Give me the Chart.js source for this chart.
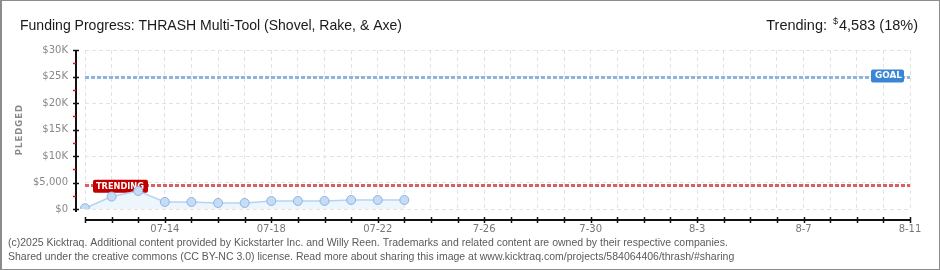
<!DOCTYPE html>
<html lang="en">
<head>
<meta charset="UTF-8">
<title>Funding Progress: THRASH Multi-Tool</title>
<script src="https://cdn.jsdelivr.net/npm/chart.js"></script>
<style>
    html, body { margin: 0; padding: 0; background: #fff; }
    .frame { position: relative; width: 940px; height: 270px; overflow: hidden; }
    .frame canvas { position: absolute; left: 0; top: 0; }
    .border {
        position: absolute; left: 0; top: 0; right: 0; bottom: 0;
        border: 1px solid #8c8c8c; border-left-width: 2px;
        pointer-events: none;
    }
</style>
</head>
<body>
<div class="frame">
    <canvas id="fundingChart" width="940" height="270"></canvas>
    <div class="border"></div>
</div>
<script>
// data
const days = ['07-11', '07-12', '07-13', '07-14', '07-15', '07-16', '07-17', '07-18',
              '07-19', '07-20', '07-21', '07-22', '07-23', '07-24', '07-25', '07-26',
              '07-27', '07-28', '07-29', '07-30', '07-31', '08-01', '08-02', '08-03',
              '08-04', '08-05', '08-06', '08-07', '08-08', '08-09', '08-10', '08-11'];
const pledged = [150, 2350, 3400, 1330, 1330, 1140, 1140, 1520, 1520, 1520, 1700, 1700, 1700];
const tickLabels = ['07-14', '07-18', '07-22', '7-26', '7-30', '8-3', '8-7', '8-11'];
const yTickLabels = ['$0', '$5,000', '$10K', '$15K', '$20K', '$25K', '$30K'];
const goal = 25000;
const trending = 4583;

function roundBox(ctx, x, y, w, h, r) {
    ctx.beginPath();
    ctx.moveTo(x + r, y);
    ctx.arcTo(x + w, y, x + w, y + h, r);
    ctx.arcTo(x + w, y + h, x, y + h, r);
    ctx.arcTo(x, y + h, x, y, r);
    ctx.arcTo(x, y, x + w, y, r);
    ctx.closePath();
    ctx.fill();
}

const overlay = {
    id: 'overlay',
    beforeDatasetsDraw(chart) {
        const { ctx, chartArea: a, scales: { y } } = chart;
        ctx.save();
        // goal + trending lines
        [[goal, '#8fb3df'], [trending, '#dd6060']].forEach(([v, c]) => {
            const py = Math.round(y.getPixelForValue(v)) + 0.5;
            ctx.strokeStyle = c;
            ctx.lineWidth = 3;
            ctx.setLineDash([4, 2]);
            ctx.beginPath();
            ctx.moveTo(a.left, py);
            ctx.lineTo(a.right, py);
            ctx.stroke();
        });
        ctx.setLineDash([]);

        // labels
        ctx.font = 'bold 9px "DejaVu Sans", sans-serif';
        ctx.textBaseline = 'middle';
        let ty = y.getPixelForValue(trending);
        ctx.fillStyle = '#c00000';
        roundBox(ctx, a.left + 8, ty - 5, 55, 13, 2);
        ctx.fillStyle = '#fff';
        ctx.fillText('TRENDING', a.left + 11, ty + 1.5, 48);

        let gy = y.getPixelForValue(goal);
        ctx.fillStyle = '#3a86d6';
        roundBox(ctx, a.right - 39, gy - 7, 33, 13, 2);
        ctx.fillStyle = '#fff';
        ctx.fillText('GOAL', a.right - 35, gy - 0.5, 27);
        ctx.restore();
    },
    afterDraw(chart) {
        const { ctx, chartArea: a, scales: { x, y } } = chart;
        ctx.save();
        // x axis
        const ax = a.bottom + 11;
        ctx.strokeStyle = '#111';
        ctx.lineWidth = 2;
        ctx.beginPath();
        ctx.moveTo(a.left, ax);
        ctx.lineTo(a.right + 1, ax);
        ctx.stroke();
        ctx.lineWidth = 1.5;
        days.forEach((d, i) => {
            const px = Math.round(x.getPixelForValue(i)) + 0.5;
            ctx.beginPath();
            ctx.moveTo(px, ax - 3);
            ctx.lineTo(px, ax + 3);
            ctx.stroke();
        });
        // y axis
        const ay = a.left - 9;
        ctx.lineWidth = 2;
        ctx.beginPath();
        ctx.moveTo(ay, a.top);
        ctx.lineTo(ay, a.bottom + 3);
        ctx.stroke();
        for (let v = 0; v <= 30000; v += 2500) {
            const py = Math.round(y.getPixelForValue(v)) + 0.5;
            const major = v % 5000 === 0;
            ctx.strokeStyle = major ? '#111' : '#e01010';
            ctx.lineWidth = 1.5;
            ctx.beginPath();
            ctx.moveTo(ay - 3, py);
            ctx.lineTo(major ? ay + 3 : ay, py);
            ctx.stroke();
        }
        // axis title
        ctx.translate(20, (a.top + a.bottom) / 2);
        ctx.rotate(-Math.PI / 2);
        ctx.font = 'bold 8.5px "DejaVu Sans", sans-serif';
        ctx.letterSpacing = '1px';
        ctx.fillStyle = '#8a8a8a';
        ctx.textAlign = 'center';
        ctx.textBaseline = 'middle';
        ctx.fillText('PLEDGED', 0, 0);
        ctx.restore();

        // headings and footer
        ctx.save();
        ctx.fillStyle = '#1a1a1a';
        ctx.font = '14.5px "Liberation Sans Narrow", "Liberation Sans", sans-serif';
        ctx.textBaseline = 'alphabetic';
        ctx.fillText('Funding Progress: THRASH Multi-Tool (Shovel, Rake, & Axe)', 20, 29.5, 382);
        const rest = '4,583 (18%)';
        const right = 918;
        const wRest = ctx.measureText(rest).width;
        ctx.fillText(rest, right - wRest, 29.5);
        ctx.font = '9px "Liberation Sans Narrow", "Liberation Sans", sans-serif';
        const wDol = ctx.measureText('$').width;
        ctx.fillText('$', right - wRest - wDol - 1, 24);
        ctx.font = '14.5px "Liberation Sans Narrow", "Liberation Sans", sans-serif';
        const lead = 'Trending:';
        const wLead = ctx.measureText(lead).width;
        ctx.fillText(lead, right - wRest - wDol - 7 - wLead, 29.5);

        ctx.fillStyle = '#5a5a5a';
        ctx.font = '10.5px "Liberation Sans Narrow", "Liberation Sans", sans-serif';
        ctx.fillText('(c)2025 Kicktraq. Additional content provided by Kickstarter Inc. and Willy Reen. Trademarks and related content are owned by their respective companies.', 8, 246, 720);
        ctx.fillText('Shared under the creative commons (CC BY-NC 3.0) license. Read more about sharing this image at www.kicktraq.com/projects/584064406/thrash/#sharing', 8, 260, 729);
        ctx.restore();
    }
};

const ctx = document.getElementById('fundingChart').getContext('2d');
new Chart(ctx, {
    type: 'line',
    data: {
        labels: days,
        datasets: [{
            label: 'Pledged',
            data: pledged,
            borderColor: '#b7d3f1',
            borderWidth: 1.5,
            backgroundColor: '#edf5fd',
            fill: 'origin',
            tension: 0,
            pointRadius: 4.5,
            pointBackgroundColor: '#c4dcf7',
            pointBorderColor: '#93b4da',
            pointBorderWidth: 1
        }]
    },
    options: {
        responsive: false,
        animation: false,
        layout: { padding: { top: 50, right: 30, left: 0, bottom: 0 } },
        plugins: {
            legend: { display: false },
            tooltip: { enabled: false }
        },
        scales: {
            x: {
                offset: false,
                afterFit: s => { s.height = 61; },
                grid: { color: '#e3e3e3', drawTicks: false },
                border: { display: false, dash: [4, 3] },
                ticks: {
                    autoSkip: false,
                    maxRotation: 0,
                    padding: 14,
                    color: '#777',
                    font: { family: 'DejaVu Sans', size: 10 },
                    callback: (v, i) => (i >= 3 && (i - 3) % 4 === 0) ? tickLabels[(i - 3) / 4] : ''
                }
            },
            y: {
                min: 0,
                max: 30000,
                afterFit: s => { s.width = 85; },
                grid: { color: '#e3e3e3', drawTicks: false },
                border: { display: false, dash: [4, 3] },
                ticks: {
                    stepSize: 5000,
                    padding: 17,
                    color: '#888',
                    font: { family: 'DejaVu Sans', size: 10 },
                    callback: (v, i) => yTickLabels[i]
                }
            }
        }
    },
    plugins: [overlay]
});
</script>
</body>
</html>
